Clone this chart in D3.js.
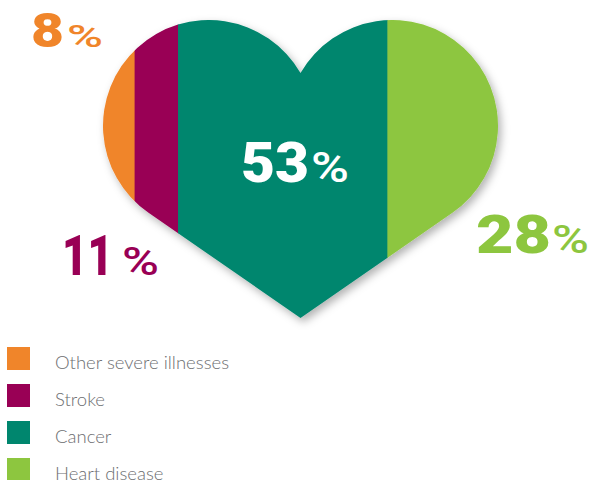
<!DOCTYPE html>
<html>
<head>
<meta charset="utf-8">
<script src="https://cdn.jsdelivr.net/npm/d3@7"></script>
<style>
  html, body { margin: 0; padding: 0; background: #fff; }
  svg { display: block; }
</style>
</head>
<body>
<svg id="chart" width="595" height="480"></svg>
<script>
// ---- data ----
const categories = ["Other severe illnesses", "Stroke", "Cancer", "Heart disease"];
const values = [8, 11, 53, 28];
const labels = ["8", "11", "53", "28"];
const colors = ["#F0852A", "#990055", "#00866E", "#8DC63F"];

const svg = d3.select("#chart");

// heart geometry
const heart = { left: 103, right: 498, top: 20, cuspY: 73, tipY: 318 };
const midX = (heart.left + heart.right) / 2;
const a = midX - heart.left, b = heart.cuspY - heart.top;
const R = (a + b) - Math.sqrt((a + b) * (a + b) - (a * a + b * b));
const cxL = heart.left + R, cxR = heart.right - R, cy = heart.top + R;
function tangent(cx, side) {
  const tx = midX, ty = heart.tipY;
  const dx = cx - tx, dy = cy - ty;
  const d = Math.hypot(dx, dy);
  const ang = Math.atan2(dy, dx);
  const off = Math.asin(R / d);
  const L = Math.sqrt(d * d - R * R);
  const t = ang + side * off;
  return [tx + L * Math.cos(t), ty + L * Math.sin(t)];
}
function outer(cx, isLeft) {
  const p1 = tangent(cx, 1), p2 = tangent(cx, -1);
  return isLeft ? (p1[0] < p2[0] ? p1 : p2) : (p1[0] > p2[0] ? p1 : p2);
}
const pL = outer(cxL, true), pR = outer(cxR, false);
const heartPath = `M${midX},${heart.cuspY} A${R},${R} 0 1 0 ${pL[0]},${pL[1]} L${midX},${heart.tipY} L${pR[0]},${pR[1]} A${R},${R} 0 1 0 ${midX},${heart.cuspY} Z`;

const defs = svg.append("defs");
defs.append("clipPath").attr("id", "heartClip").append("path").attr("d", heartPath);
const f = defs.append("filter").attr("id", "shadow").attr("x", "-20%").attr("y", "-20%").attr("width", "140%").attr("height", "140%");
f.append("feDropShadow").attr("dx", 3).attr("dy", 4).attr("stdDeviation", 4)
  .attr("flood-color", "#000").attr("flood-opacity", 0.3);

const x = d3.scaleLinear().domain([0, d3.sum(values)]).range([heart.left, heart.right]);
const cum = d3.cumsum(values);
const segs = values.map((v, i) => ({ start: cum[i] - v, end: cum[i], color: colors[i] }));

const g = svg.append("g").attr("filter", "url(#shadow)");
const inner = g.append("g").attr("clip-path", "url(#heartClip)");
inner.selectAll("rect").data(segs).join("rect")
  .attr("x", d => x(d.start))
  .attr("y", heart.top - 5)
  .attr("width", d => x(d.end) - x(d.start) + (d.end < 100 ? 0.5 : 0))
  .attr("height", heart.tipY - heart.top + 10)
  .attr("fill", d => d.color);

// percentage labels
const labelPos = [
  { x: 31, y: 47, size: 48, w: 33, px: 67, psize: 32, pw: 36, fill: colors[0] },
  { x: 62, y: 275, size: 56, w: 51, px: 122, psize: 39, pw: 37, fill: colors[1] },
  { x: 241, y: 182, size: 56, w: 68, px: 311, psize: 42, pw: 38, fill: "#ffffff" },
  { x: 476, y: 253, size: 53, w: 75, px: 552, psize: 39, pw: 37, fill: colors[3] }
];
labels.forEach((lab, i) => {
  const p = labelPos[i];
  const t = svg.append("text")
    .attr("fill", p.fill)
    .style("font-family", "Roboto, 'Open Sans', sans-serif");
  t.append("tspan")
    .attr("x", p.x).attr("y", p.y)
    .attr("textLength", p.w).attr("lengthAdjust", "spacingAndGlyphs")
    .style("font-size", p.size + "px").style("font-weight", 900)
    .text(lab);
  t.append("tspan")
    .attr("x", p.px).attr("y", p.y)
    .attr("textLength", p.pw).attr("lengthAdjust", "spacingAndGlyphs")
    .style("font-size", p.psize + "px").style("font-weight", 500)
    .text("%");
});

// legend
const legendY = d3.scalePoint().domain(categories).range([347, 458]);
const lg = svg.append("g");
categories.forEach((c, i) => {
  lg.append("rect").attr("x", 7).attr("y", legendY(c)).attr("width", 23).attr("height", 23).attr("fill", colors[i]);
  lg.append("text").attr("x", 55).attr("y", legendY(c) + 21.5)
    .text(c)
    .attr("fill", "#6d6e71")
    .style("font-family", "Lato, 'Open Sans', sans-serif")
    .style("font-weight", 300)
    .style("font-size", "18.5px");
});
</script>
</body>
</html>
